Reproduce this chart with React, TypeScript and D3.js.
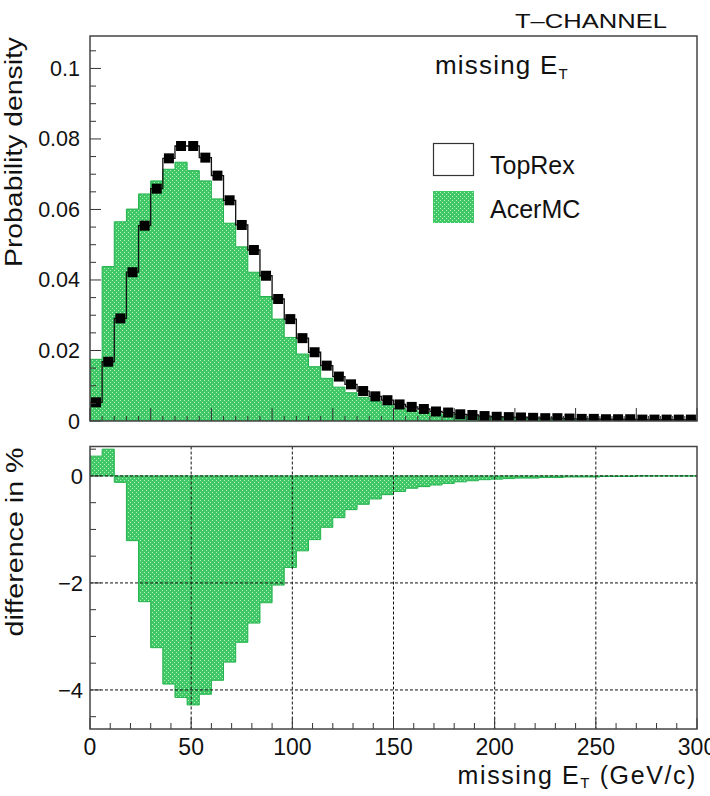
import React from 'react';
import * as d3 from 'd3';

// ---- data (50 bins of 6 GeV, 0..300 GeV) ----
const BIN_WIDTH = 6;
const topRex = [
  0.0053, 0.0168, 0.0291, 0.0422, 0.0554, 0.0659, 0.0745, 0.078, 0.078, 0.0747,
  0.0696, 0.0626, 0.0556, 0.0485, 0.0412, 0.0346, 0.0289, 0.0235, 0.0195, 0.0157,
  0.0126, 0.0104, 0.0085, 0.007, 0.0059, 0.0047, 0.004, 0.0034, 0.0027, 0.0024,
  0.0019, 0.0017, 0.0014, 0.0012, 0.0011, 0.001, 0.0009, 0.0008, 0.0008, 0.0007,
  0.0006, 0.0006, 0.0005, 0.0005, 0.0005, 0.0004, 0.0004, 0.0004, 0.0004, 0.0004,
];
const acerMC = [
  0.0175, 0.0438, 0.0565, 0.0601, 0.0644, 0.0681, 0.0714, 0.0734, 0.071, 0.0681,
  0.063, 0.0561, 0.0494, 0.0422, 0.0353, 0.0289, 0.0237, 0.019, 0.0154, 0.0121,
  0.0096, 0.008, 0.0067, 0.0055, 0.0045, 0.0036, 0.0029, 0.0024, 0.002, 0.0017,
  0.0014, 0.0012, 0.001, 0.0009, 0.0008, 0.0007, 0.0006, 0.0005, 0.0005, 0.0004,
  0.0004, 0.0003, 0.0003, 0.0003, 0.0002, 0.0002, 0.0002, 0.0002, 0.0002, 0.0002,
];
const diffPct = [
  0.37, 0.5, -0.12, -1.21, -2.35, -3.21, -3.89, -4.14, -4.28, -4.08,
  -3.82, -3.48, -3.11, -2.75, -2.37, -2.04, -1.71, -1.4, -1.19, -0.96,
  -0.78, -0.63, -0.53, -0.43, -0.35, -0.29, -0.23, -0.2, -0.17, -0.14,
  -0.11, -0.09, -0.07, -0.06, -0.05, -0.04, -0.04, -0.03, -0.03, -0.02,
  -0.02, -0.02, -0.01, -0.01, -0.01, 0, 0, 0, 0, 0,
];
const topYTicks = [0, 0.02, 0.04, 0.06, 0.08, 0.1];
const topYTickLabels = ['0', '0.02', '0.04', '0.06', '0.08', '0.1'];
const botYTicks = [0, -2, -4];
const botYTickLabels = ['0', '\u22122', '\u22124'];
const xTicks = [0, 50, 100, 150, 200, 250, 300];
const xTickLabels = ['0', '50', '100', '150', '200', '250', '300'];
const legendLabels = ['TopRex', 'AcerMC'];

// ---- layout ----
const W = 710, H = 796;
const L = 90, R = 697;
const T1 = 36, B1 = 421;
const T2 = 446.5, B2 = 729;
const FONT = "'Liberation Sans', Arial, Helvetica, sans-serif";
const GREEN_EDGE = '#22b24c';

const x = d3.scaleLinear().domain([0, 300]).range([L, R]);
const y1 = d3.scaleLinear().domain([0, 0.1092]).range([B1, T1]);
const y2 = d3.scaleLinear().domain([-4.73, 0.55]).range([B2, T2]);

type Pt = [number, number];
function stepPoints(values: number[], ys: d3.ScaleLinear<number, number>): Pt[] {
  const pts: Pt[] = [[x(0), ys(0)]];
  values.forEach((v, i) => {
    pts.push([x(i * BIN_WIDTH), ys(v)]);
    pts.push([x((i + 1) * BIN_WIDTH), ys(v)]);
  });
  pts.push([x(values.length * BIN_WIDTH), ys(0)]);
  return pts;
}
const lineGen = d3.line<Pt>().x((d) => d[0]).y((d) => d[1]);

function range(a: number, b: number, s: number) {
  const out: number[] = [];
  for (let v = a; v <= b + 1e-9; v += s) out.push(Math.round(v * 1000) / 1000);
  return out;
}

export default function App() {
  const acerTop = lineGen(stepPoints(acerMC, y1)) + 'Z';
  const topRexLine = lineGen(stepPoints(topRex, y1));
  const diffPath = lineGen(stepPoints(diffPct, y2)) + 'Z';

  const topMinorY = range(0, 0.105, 0.005);
  const topMinorX = range(0, 300, 6);
  const topMajorX = range(0, 300, 30);
  const botMinorY = range(-4.5, 0.5, 0.5);
  const botMinorX = range(0, 300, 10);

  return (
    <svg width={W} height={H} style={{ position: 'absolute', left: 0, top: 0, background: '#fff' }}
      fontFamily={FONT}>
      <defs>
        <pattern id="gfill" width={4} height={4} patternUnits="userSpaceOnUse">
          <rect width={4} height={4} fill="#40c866" />
          <rect x={0} y={0} width={1} height={1} fill="#b8eec6" />
          <rect x={2} y={2} width={1} height={1} fill="#b8eec6" />
        </pattern>
        <clipPath id="c1"><rect x={L} y={T1} width={R - L} height={B1 - T1} /></clipPath>
        <clipPath id="c2"><rect x={L} y={T2} width={R - L} height={B2 - T2} /></clipPath>
      </defs>

      {/* title */}
      <text x={515} y={28} fontSize={21} textLength={152} lengthAdjust="spacingAndGlyphs" fill="#111">T–CHANNEL</text>

      {/* ===== top panel ===== */}
      <g clipPath="url(#c1)">
        <path d={acerTop} fill="url(#gfill)" stroke={GREEN_EDGE} strokeWidth={1} />
        <path d={topRexLine ?? ''} fill="none" stroke="#111" strokeWidth={1.3} />
        {topRex.map((v, i) => (
          <rect key={i} x={x((i + 0.5) * BIN_WIDTH) - 5} y={y1(v) - 5} width={10} height={10} fill="#000" />
        ))}
      </g>
      {/* top ticks */}
      {topMinorY.map((v) => {
        const major = topYTicks.some((t) => Math.abs(t - v) < 1e-6);
        return <line key={'ty' + v} x1={L} x2={L + (major ? 11 : 6)} y1={y1(v)} y2={y1(v)} stroke="#333" strokeWidth={1} />;
      })}
      {topMinorX.map((v) => {
        const major = topMajorX.some((t) => Math.abs(t - v) < 1e-6);
        return <line key={'tx' + v} x1={x(v)} x2={x(v)} y1={B1} y2={B1 - (major ? 13 : 5)} stroke="#333" strokeWidth={1} />;
      })}
      <rect x={L} y={T1} width={R - L} height={B1 - T1} fill="none" stroke="#444" strokeWidth={1.5} />
      {topYTicks.map((v, i) => (
        <text key={'tyl' + v} x={80} y={y1(v) + 7.5} fontSize={21.5} textAnchor="end" fill="#111">{topYTickLabels[i]}</text>
      ))}
      <text transform={`translate(22,${T1 + 1}) rotate(-90)`} fontSize={23} textAnchor="end" textLength={230}
        lengthAdjust="spacingAndGlyphs" fill="#111">Probability density</text>

      {/* label + legend */}
      <text x={435} y={74} fontSize={26} fill="#111" letterSpacing={1.2}>
        <tspan>missing E</tspan>
        <tspan fontSize={15} dy={5}>T</tspan>
      </text>
      <rect x={433.5} y={143.5} width={40} height={32} fill="#fff" stroke="#333" strokeWidth={1.2} />
      <text x={490} y={174} fontSize={25} fill="#111">{legendLabels[0]}</text>
      <rect x={433} y={191} width={41} height={32} fill="url(#gfill)" />
      <text x={490} y={218} fontSize={25} fill="#111">{legendLabels[1]}</text>

      {/* ===== bottom panel ===== */}
      <g clipPath="url(#c2)">
        <path d={diffPath} fill="url(#gfill)" stroke={GREEN_EDGE} strokeWidth={1} />
        {[50, 100, 150, 200, 250].map((v) => (
          <line key={'gx' + v} x1={x(v)} x2={x(v)} y1={T2} y2={B2} stroke="#111" strokeWidth={1} strokeDasharray="3,2" />
        ))}
        {botYTicks.map((v) => (
          <line key={'gy' + v} x1={L} x2={R} y1={y2(v)} y2={y2(v)} stroke="#111" strokeWidth={1} strokeDasharray="3,2" />
        ))}
      </g>
      {botMinorY.map((v) => {
        const major = botYTicks.some((t) => Math.abs(t - v) < 1e-6);
        return <line key={'by' + v} x1={L} x2={L + (major ? 11 : 6)} y1={y2(v)} y2={y2(v)} stroke="#333" strokeWidth={1} />;
      })}
      {botMinorX.map((v) => {
        const major = xTicks.some((t) => Math.abs(t - v) < 1e-6);
        return <line key={'bx' + v} x1={x(v)} x2={x(v)} y1={B2} y2={B2 - (major ? 11 : 6)} stroke="#333" strokeWidth={1} />;
      })}
      <rect x={L} y={T2} width={R - L} height={B2 - T2} fill="none" stroke="#444" strokeWidth={1.5} />
      {botYTicks.map((v, i) => (
        <text key={'byl' + v} x={83} y={y2(v) + 8} fontSize={22} textAnchor="end" fill="#111">{botYTickLabels[i]}</text>
      ))}
      <text transform={`translate(23,${T2 + 1}) rotate(-90)`} fontSize={23} textAnchor="end" textLength={189}
        lengthAdjust="spacingAndGlyphs" fill="#111">difference in %</text>
      {xTicks.map((v, i) => (
        <text key={'bxl' + v} x={x(v)} y={755} fontSize={23} textAnchor="middle" fill="#111">{xTickLabels[i]}</text>
      ))}
      <text x={697} y={784} fontSize={25} textAnchor="end" fill="#111" letterSpacing={1.6}>
        <tspan>missing E</tspan>
        <tspan fontSize={15} dy={4}>T</tspan>
        <tspan dy={-4}> (GeV/c)</tspan>
      </text>
    </svg>
  );
}
